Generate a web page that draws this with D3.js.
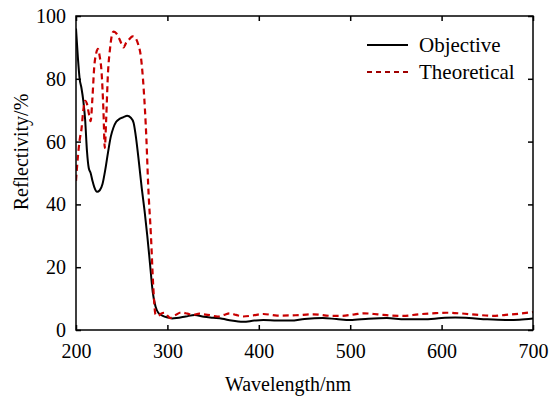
<!DOCTYPE html>
<html>
<head>
<meta charset="utf-8">
<script src="https://cdn.jsdelivr.net/npm/d3@7"></script>
<style>
  body { margin:0; background:#fff; }
</style>
</head>
<body>
<div id="chart-area"></div>
<script>
// measured reflectivity (black solid)
var objWave = [200,202,204,206,208,210,212,214,216,218,220,223,226,229,232,235,238,241,244,248,252,256,260,263,266,269,272,275,278,281,284,287,290,295,300,305,310,320,330,340,350,360,370,383,395,405,420,435,450,470,485,500,520,540,560,580,600,615,630,650,670,685,700];
var objRefl = [96,87,80,77,73,67,57,51.5,50,47.5,45.5,44,44.5,46.5,51,56.5,61.5,64.5,66.3,67.3,67.8,68.2,67.6,66,60.5,53,45,38,30,21,12,7.5,5.5,4.5,4,3.7,3.8,4.3,4.8,4.2,3.9,3.6,3.0,2.6,3.0,3.2,3.0,3.0,3.5,3.8,3.5,3.2,3.6,3.8,3.4,3.4,3.8,4.0,3.8,3.4,3.2,3.3,3.7];

// theoretical reflectivity (red dashed)
var theoWave = [200,202,204,206,208,210,212,214,216,218,220,222,224,226,228,230,231.5,233,235,237,239,241,244,247,250,252,255,258,262,265,268,271,274,277,279,282,284.5,287,290,293,297,300,303,308,315,322,328,335,340,347,355,362,368,375,383,393,405,420,440,460,480,490,505,515,530,545,558,575,590,605,620,640,656,670,685,700];
var theoRefl = [47.5,55,60.5,64,70,73,72,69,66.5,74,84,88,89.5,87,82,70,58,67,82,89,93.5,95,94.5,93,91,90,91.5,92.5,93.5,93,91,87,77,61,46,30,14,5,4.5,5.2,5.5,4.6,3.8,4.6,5.6,5.2,4.8,5.2,5.0,4.7,4.3,4.8,5.3,4.8,4.3,4.6,5.1,4.6,4.7,5.0,4.5,4.5,5.0,5.3,5.0,4.6,4.5,5.0,5.3,5.5,5.3,4.8,4.5,4.8,5.2,5.7];

var xTicks = [200,300,400,500,600,700];
var yTicks = [0,20,40,60,80,100];

var seriesNames = ["Objective","Theoretical"];

var FONT = "'Liberation Serif', 'Times New Roman', Times, serif";

// plot box
var width = 550, height = 402;
var margin = {top:16, right:17, bottom:72, left:76};
var w = width - margin.left - margin.right,
    h = height - margin.top - margin.bottom;

var svg = d3.select("#chart-area").append("svg")
    .attr("width", width)
    .attr("height", height)
    .style("font-family", FONT);

var g = svg.append("g")
    .attr("transform", "translate(" + margin.left + "," + margin.top + ")");

var x = d3.scaleLinear().domain([200,700]).range([0, w]);
var y = d3.scaleLinear().domain([0,100]).range([h, 0]);

// clip so lines stay inside the frame
g.append("clipPath").attr("id","clip")
  .append("rect").attr("width", w).attr("height", h);

var line = d3.line()
    .x(function(d){ return x(d[0]); })
    .y(function(d){ return y(d[1]); })
    .curve(d3.curveMonotoneX);

var objData = objWave.map(function(d,i){ return [d, objRefl[i]]; });
var theoData = theoWave.map(function(d,i){ return [d, theoRefl[i]]; });

g.append("path")
    .datum(objData)
    .attr("clip-path","url(#clip)")
    .attr("d", line)
    .style("fill","none")
    .style("stroke","#000")
    .style("stroke-width",2);

g.append("path")
    .datum(theoData)
    .attr("clip-path","url(#clip)")
    .attr("d", line)
    .style("fill","none")
    .style("stroke","#c80000")
    .style("stroke-width",2.2)
    .style("stroke-dasharray","6,4");

// axes, ticks inside
var tickLen = 5;
function styleAxis(a) {
  a.attr("font-family", null).attr("font-size", null);
  a.select(".domain").remove();
  a.selectAll("line").style("stroke","#000").style("stroke-width",1.5);
  a.selectAll("text")
    .style("font-family", FONT)
    .style("font-size","20px")
    .style("fill","#000");
}

g.append("g")
    .attr("transform","translate(0," + h + ")")
    .call(d3.axisBottom(x).tickValues(xTicks).tickSizeInner(-tickLen).tickSizeOuter(0).tickPadding(14))
    .call(styleAxis);

g.append("g")
    .call(d3.axisLeft(y).tickValues(yTicks).tickSizeInner(-tickLen).tickSizeOuter(0).tickPadding(10))
    .call(styleAxis);

// mirror ticks on top and right
g.append("g")
    .call(d3.axisTop(x).tickValues(xTicks).tickSizeInner(-tickLen).tickSizeOuter(0).tickFormat(""))
    .call(styleAxis);

g.append("g")
    .attr("transform","translate(" + w + ",0)")
    .call(d3.axisRight(y).tickValues(yTicks).tickSizeInner(-tickLen).tickSizeOuter(0).tickFormat(""))
    .call(styleAxis);

// frame
g.append("rect")
    .attr("width", w).attr("height", h)
    .style("fill","none")
    .style("stroke","#000")
    .style("stroke-width",1.5);

// axis titles
svg.append("text")
    .attr("x", 288).attr("y", 391)
    .attr("text-anchor","middle")
    .style("font-family", FONT)
    .style("font-size","20px")
    .text("Wavelength/nm");

svg.append("text")
    .attr("transform","translate(28,152) rotate(-90)")
    .attr("text-anchor","middle")
    .style("font-family", FONT)
    .style("font-size","20px")
    .text("Reflectivity/%");

// legend
var legend = svg.append("g");
var legStyles = [{stroke:"#000", dash:null}, {stroke:"#a00000", dash:"5,4"}];
seriesNames.forEach(function(name,i){
  var ly = 45 + i*27;
  legend.append("line")
    .attr("x1",367).attr("x2",408)
    .attr("y1",ly).attr("y2",ly)
    .style("stroke",legStyles[i].stroke)
    .style("stroke-width",2)
    .style("stroke-dasharray",legStyles[i].dash);
  legend.append("text")
    .attr("x",419).attr("y",ly+6.5)
    .style("font-family", FONT)
    .style("font-size","21px")
    .text(name);
});
</script>
</body>
</html>
